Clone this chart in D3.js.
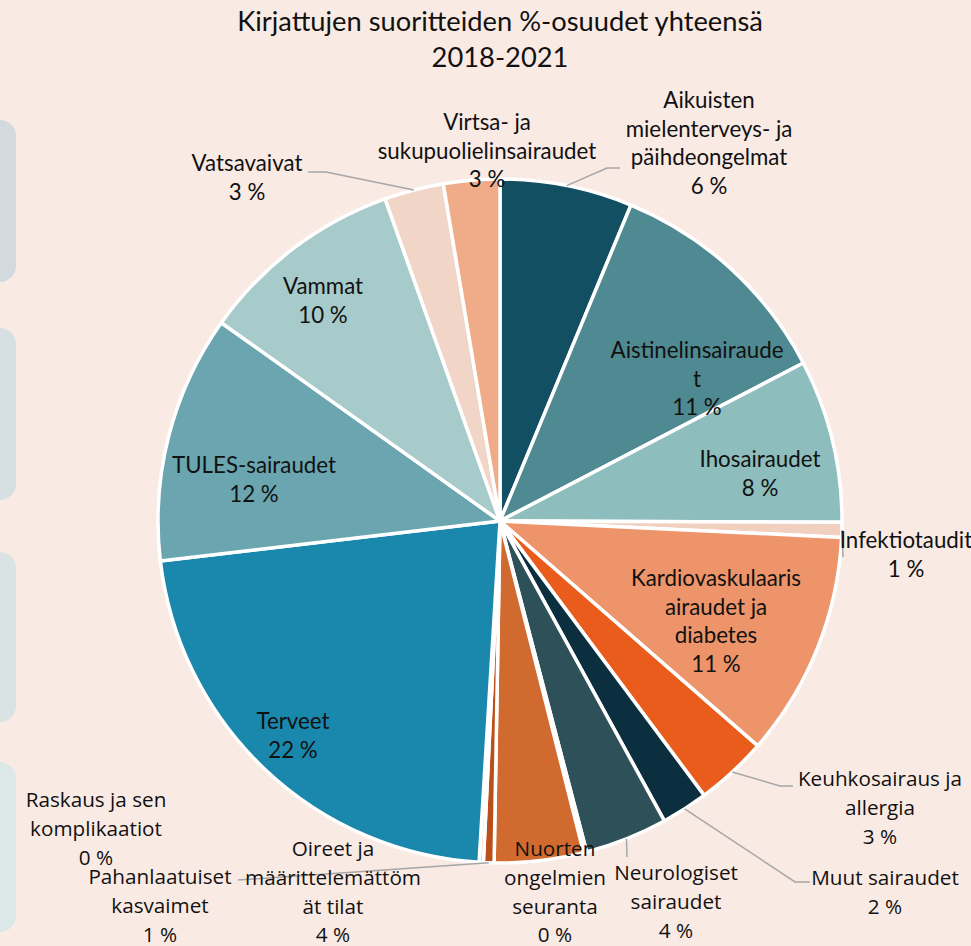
<!DOCTYPE html>
<html lang="fi">
<head>
    <meta charset="UTF-8">
    <title>Kirjattujen suoritteiden %-osuudet yhteensä 2018-2021</title>
    <script src="https://d3js.org/d3.v7.min.js"></script>
    <style>
        body { margin: 0; background: #FAEAE4; }
        .title { font: 27.3px Lato, sans-serif; fill: #111; text-anchor: middle; }
        .pie-label { text-anchor: middle; fill: #111; }
        .narrow { font: 22.3px Lato, sans-serif; }
        .wide { font: 20.7px "Open Sans", sans-serif; }
        .leader { fill: none; stroke: #A6A6A6; stroke-width: 1.5px; }
    </style>
</head>
<body>
<div id="chart"></div>
<script>
    // categories (clockwise from 12 o'clock)
    const categories = [
        "Aikuisten mielenterveys- ja päihdeongelmat",
        "Aistinelinsairaudet",
        "Ihosairaudet",
        "Infektiotaudit",
        "Kardiovaskulaarisairaudet ja diabetes",
        "Keuhkosairaus ja allergia",
        "Muut sairaudet",
        "Neurologiset sairaudet",
        "Nuorten ongelmien seuranta",
        "Oireet ja määrittelemättömät tilat",
        "Pahanlaatuiset kasvaimet",
        "Raskaus ja sen komplikaatiot",
        "Terveet",
        "TULES-sairaudet",
        "Vammat",
        "Vatsavaivat",
        "Virtsa- ja sukupuolielinsairaudet"
    ];

    // share of all recorded services, %
    const shares = [6.25, 11.1, 7.7, 0.7, 10.65, 3.4, 2.2, 3.9, 0.15, 4.2, 0.5, 0.2, 22.15, 11.7, 9.7, 2.8, 2.65];

    // label text as it wraps in the picture
    const labelLines = [
        ["Aikuisten", "mielenterveys- ja", "päihdeongelmat"],
        ["Aistinelinsairaude", "t"],
        ["Ihosairaudet"],
        ["Infektiotaudit"],
        ["Kardiovaskulaaris", "airaudet ja", "diabetes"],
        ["Keuhkosairaus ja", "allergia"],
        ["Muut sairaudet"],
        ["Neurologiset", "sairaudet"],
        ["Nuorten", "ongelmien", "seuranta"],
        ["Oireet ja", "määrittelemättöm", "ät tilat"],
        ["Pahanlaatuiset", "kasvaimet"],
        ["Raskaus ja sen", "komplikaatiot"],
        ["Terveet"],
        ["TULES-sairaudet"],
        ["Vammat"],
        ["Vatsavaivat"],
        ["Virtsa- ja", "sukupuolielinsairaudet"]
    ];

    const colors = ["#134F63", "#4F8991", "#8DBDBC", "#F2D0C0", "#EE946A", "#E95C1B", "#0B2F3F", "#2E5058",
                    "#E07A40", "#D06A2F", "#B94F19", "#F3C6A8", "#1A88AC", "#6AA5B0", "#A6CBCA", "#F1D6C8", "#F0AB89"];

    // label placement relative to pie centre: [dx, dy of first line, font class]
    const labelPos = [
        [209, -421, "narrow"], [197, -171, "narrow"], [260, -62, "narrow"], [406, 19, "narrow"],
        [216, 57, "narrow"], [380, 258, "wide"], [385, 357, "wide"], [176, 352, "wide"],
        [55, 328, "wide"], [-167, 328, "wide"], [-340, 356, "wide"], [-404, 279, "wide"],
        [-207, 200, "narrow"], [-246, -56, "narrow"], [-177, -235, "narrow"], [-253, -358, "narrow"],
        [-13, -399, "narrow"]
    ];

    // leader lines: slice index and bend/end points relative to centre
    const leaders = [
        {i: 0, pts: [[107, -353], [120, -353]]},
        {i: 3, pts: [[343, 36]]},
        {i: 5, pts: [[280, 265], [293, 265]]},
        {i: 6, pts: [[295, 361], [310, 361]]},
        {i: 7, pts: [[127, 336]]},
        {i: 10, pts: [[-262, 359]]},
        {i: 15, pts: [[-174, -349], [-192, -349]]}
    ];

    const width = 971, height = 946;
    const cx = 500, cy = 521, radius = 342, lineH = 28.7;

    const svg = d3.select("#chart").append("svg")
        .attr("width", width)
        .attr("height", height);

    svg.append("rect")
        .attr("width", width)
        .attr("height", height)
        .attr("fill", "#FAEAE4");

    // bits of the neighbouring panels on the left edge
    const sidePanels = [[120, 162, "#D2DADD"], [328, 172, "#D6E0E2"], [552, 170, "#D9E3E4"], [762, 170, "#DCE7E7"]];
    svg.selectAll(".side")
        .data(sidePanels)
        .enter().append("rect")
        .attr("x", -30)
        .attr("y", d => d[0])
        .attr("width", 46)
        .attr("height", d => d[1])
        .attr("rx", 16)
        .attr("fill", d => d[2]);

    svg.append("text")
        .attr("class", "title")
        .attr("x", cx)
        .attr("y", 31)
        .text("Kirjattujen suoritteiden %-osuudet yhteensä");
    svg.append("text")
        .attr("class", "title")
        .attr("x", cx)
        .attr("y", 67)
        .text("2018-2021");

    const data = categories.map((c, i) => ({name: c, value: shares[i], idx: i}));
    const total = d3.sum(shares);

    const pie = d3.pie().sort(null).value(d => d.value);
    const arcs = pie(data);

    const arc = d3.arc().innerRadius(0).outerRadius(radius);
    const rimArc = d3.arc().innerRadius(radius).outerRadius(radius);

    const g = svg.append("g")
        .attr("transform", `translate(${cx},${cy})`);

    g.selectAll("path.slice")
        .data(arcs)
        .enter().append("path")
        .attr("class", "slice")
        .attr("d", arc)
        .attr("fill", d => colors[d.data.idx])
        .attr("stroke", "#fff")
        .attr("stroke-width", 3.5)
        .attr("stroke-linejoin", "round");

    const line = d3.line();
    g.selectAll(".leader")
        .data(leaders)
        .enter().append("path")
        .attr("class", "leader")
        .attr("d", d => line([rimArc.centroid(arcs[d.i])].concat(d.pts)));

    const labels = g.selectAll(".pie-label")
        .data(arcs)
        .enter().append("text")
        .attr("class", d => "pie-label " + labelPos[d.data.idx][2])
        .attr("transform", d => `translate(${labelPos[d.data.idx][0]},${labelPos[d.data.idx][1]})`);

    labels.each(function(d) {
        const t = d3.select(this);
        const lines = labelLines[d.data.idx].concat([Math.round(d.value / total * 100) + " %"]);
        lines.forEach((l, k) => {
            t.append("tspan")
                .attr("x", 0)
                .attr("y", k * lineH)
                .attr("dy", "0.35em")
                .text(l);
        });
    });
</script>
</body>
</html>
